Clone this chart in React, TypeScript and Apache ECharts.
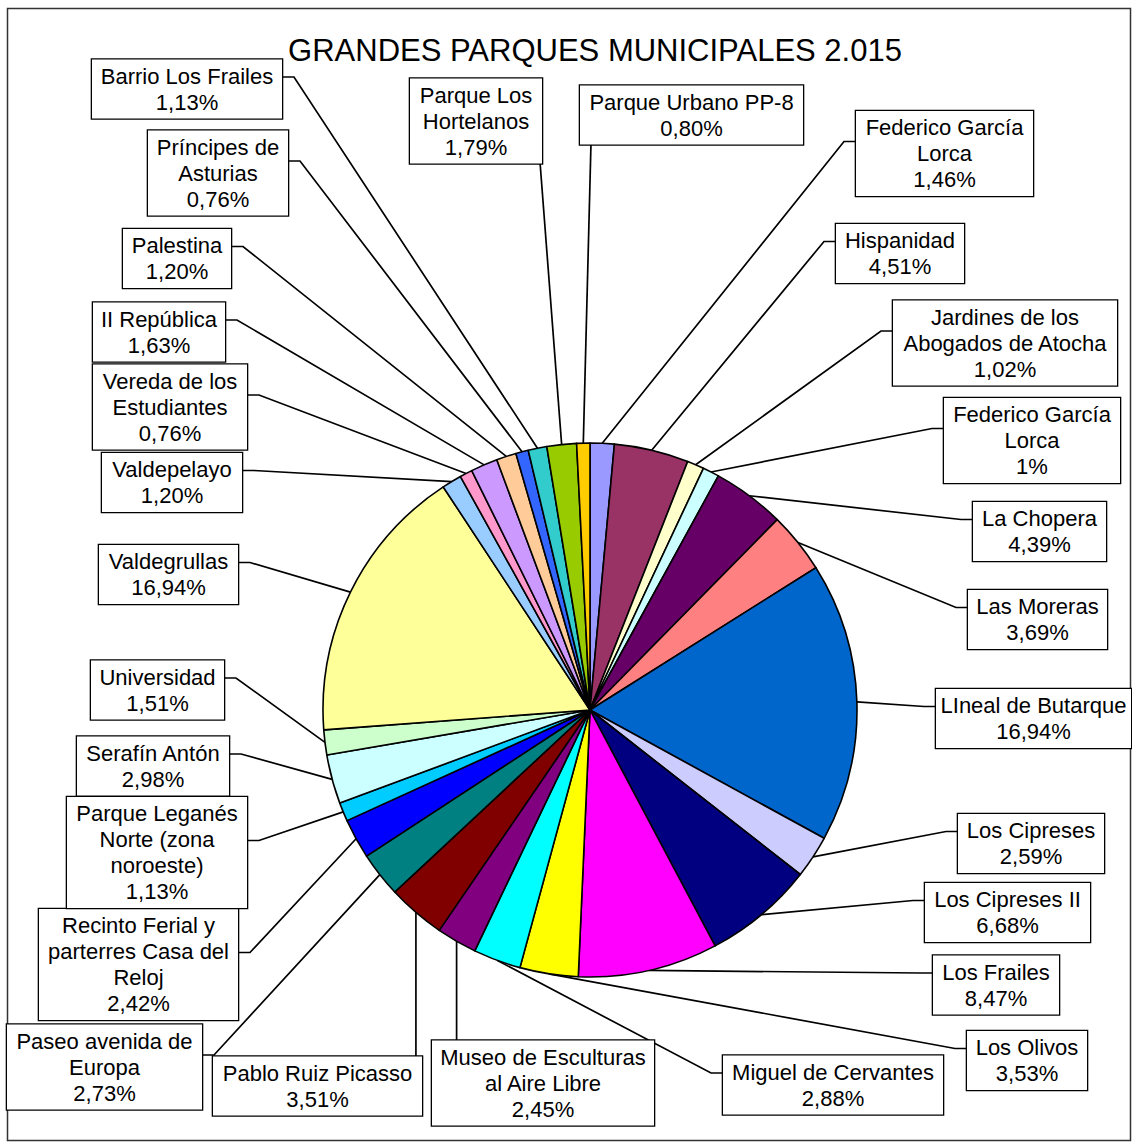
import React, { useEffect, useRef } from 'react';
import * as echarts from 'echarts';

const TITLE = 'GRANDES PARQUES MUNICIPALES 2.015';

const PARKS: string[] = [
  'Federico García\nLorca',
  'Hispanidad',
  'Jardines de los\nAbogados de Atocha',
  'Federico García\nLorca',
  'La Chopera',
  'Las Moreras',
  'LIneal de Butarque',
  'Los Cipreses',
  'Los Cipreses II',
  'Los Frailes',
  'Los Olivos',
  'Miguel de Cervantes',
  'Museo de Esculturas\nal Aire Libre',
  'Pablo Ruiz Picasso',
  'Paseo avenida de\nEuropa',
  'Recinto Ferial y\nparterres Casa del\nReloj',
  'Parque Leganés\nNorte (zona\nnoroeste)',
  'Serafín Antón',
  'Universidad',
  'Valdegrullas',
  'Valdepelayo',
  'Vereda de los\nEstudiantes',
  'II República',
  'Palestina',
  'Príncipes de\nAsturias',
  'Barrio Los Frailes',
  'Parque Los\nHortelanos',
  'Parque Urbano PP-8',
];

const SHARES: number[] = [
  1.46, 4.51, 1.02, 1, 4.39, 3.69, 16.94, 2.59, 6.68, 8.47, 3.53, 2.88, 2.45, 3.51,
  2.73, 2.42, 1.13, 2.98, 1.51, 16.94, 1.2, 0.76, 1.63, 1.2, 0.76, 1.13, 1.79, 0.8,
];

const COLORS: string[] = [
  '#9999FF', '#993366', '#FFFFCC', '#CCFFFF', '#660066', '#FF8080', '#0066CC',
  '#CCCCFF', '#000080', '#FF00FF', '#FFFF00', '#00FFFF', '#800080', '#800000',
  '#008080', '#0000FF', '#00CCFF', '#CCFFFF', '#CCFFCC', '#FFFF99', '#99CCFF',
  '#FF99CC', '#CC99FF', '#FFCC99', '#3366FF', '#33CCCC', '#99CC00', '#FFCC00',
];

// Label box layout (page px): left, top, right, bottom, side where the leader line attaches, fixed attach x
const LABEL_BOXES: [number, number, number, number, string, number?][] = [
  [856, 111, 1033, 196, 'L'],
  [836, 224, 964, 283, 'L'],
  [893, 301, 1117, 385, 'L'],
  [944, 398, 1120, 483, 'L'],
  [973, 502, 1106, 561, 'L'],
  [968, 590, 1107, 649, 'L'],
  [936, 689, 1131, 748, 'L'],
  [958, 814, 1104, 873, 'L'],
  [925, 883, 1090, 942, 'L'],
  [933, 956, 1059, 1014, 'L'],
  [967, 1031, 1087, 1090, 'L'],
  [723, 1056, 943, 1114, 'L'],
  [432, 1040, 654, 1126, 'T'],
  [213, 1057, 422, 1115, 'T'],
  [7, 1025, 202, 1109, 'R'],
  [39, 910, 238, 1019, 'R'],
  [67, 797, 247, 908, 'R'],
  [77, 737, 229, 795, 'R'],
  [91, 661, 224, 719, 'R'],
  [99, 545, 238, 604, 'R'],
  [102, 453, 242, 512, 'R'],
  [93, 365, 247, 449, 'R'],
  [93, 302, 225, 362, 'R'],
  [123, 229, 231, 288, 'R'],
  [148, 130, 288, 216, 'R'],
  [92, 60, 282, 118, 'R'],
  [410, 80, 542, 162, 'B', 540],
  [580, 87, 803, 143, 'B', 591],
];

const fmtPct = (v: number) =>
  Number.isInteger(v) ? `${v}%` : `${v.toFixed(2).replace('.', ',')}%`;

export default function App() {
  const ref = useRef<HTMLDivElement>(null);

  useEffect(() => {
    if (!ref.current) return;
    const chart = echarts.init(ref.current, null, { renderer: 'svg' });
    const CX = 590;
    const CY = 710;
    const R = 267;
    const total = SHARES.reduce((a, b) => a + b, 0);
    const mids: number[] = [];
    let acc = 0;
    SHARES.forEach((v) => {
      mids.push(((acc + v / 2) / total) * Math.PI * 2);
      acc += v;
    });

    const option: any = {
      animation: false,
      backgroundColor: '#fff',
      title: {
        text: TITLE,
        left: 595,
        top: 35,
        padding: 0,
        textAlign: 'center',
        textStyle: {
          fontFamily: 'Liberation Sans, Arial, sans-serif',
          fontSize: 31,
          fontWeight: 'normal',
          color: '#000',
        },
      },
      graphic: [
        {
          type: 'rect',
          silent: true,
          z: -10,
          shape: { x: 7.5, y: 8.5, width: 1123, height: 1132 },
          style: { fill: 'none', stroke: '#333', lineWidth: 1.5 },
        },
      ],
      series: [
        {
          type: 'pie',
          center: [CX, CY],
          radius: R,
          startAngle: 90,
          clockwise: true,
          avoidLabelOverlap: false,
          silent: true,
          emphasis: { disabled: true },
          itemStyle: { borderColor: '#000', borderWidth: 1.6 },
          label: {
            show: true,
            position: 'outside',
            formatter: (p: any) => `${PARKS[p.dataIndex]}\n${fmtPct(SHARES[p.dataIndex])}`,
            fontFamily: 'Liberation Sans, Arial, sans-serif',
            fontSize: 22,
            lineHeight: 26,
            color: '#000',
            align: 'center',
            backgroundColor: '#fff',
            borderColor: '#000',
            borderWidth: 1.3,
            padding: [4, 0, 3, 0],
            overflow: 'none',
          },
          labelLine: {
            show: true,
            length: 10,
            length2: 10,
            lineStyle: { color: '#000', width: 1.7 },
          },
          labelLayout: (p: any) => {
            const i = p.dataIndex;
            const [l, t, r, b, side, fx] = LABEL_BOXES[i];
            const cx = (l + r) / 2;
            const cy = (t + b) / 2;
            let P: number[] = [CX + R * Math.sin(mids[i]), CY - R * Math.cos(mids[i])];
            if (p.labelLinePoints && p.labelLinePoints[0] && isFinite(p.labelLinePoints[0][0])) {
              P = [p.labelLinePoints[0][0], p.labelLinePoints[0][1]];
            }
            let pts: number[][];
            const ay = cy - 12;
            if (side === 'L') {
              pts = [P, [l - 12, ay], [l, ay]];
            } else if (side === 'R') {
              pts = [P, [r + 12, ay], [r, ay]];
            } else if (side === 'T') {
              const ax = Math.min(r - 4, Math.max(l + 4, P[0]));
              pts = [P, [ax, t]];
            } else {
              pts = [P, [fx as number, b]];
            }
            return {
              x: cx,
              y: cy,
              align: 'center',
              verticalAlign: 'middle',
              labelLinePoints: pts,
            };
          },
          data: PARKS.map((name, i) => ({
            name,
            value: SHARES[i],
            itemStyle: { color: COLORS[i] },
            label: { width: LABEL_BOXES[i][2] - LABEL_BOXES[i][0] },
          })),
        },
      ],
    };
    chart.setOption(option);
    return () => chart.dispose();
  }, []);

  return (
    <div
      ref={ref}
      style={{ position: 'absolute', left: 0, top: 0, width: 1132, height: 1142 }}
    />
  );
}
